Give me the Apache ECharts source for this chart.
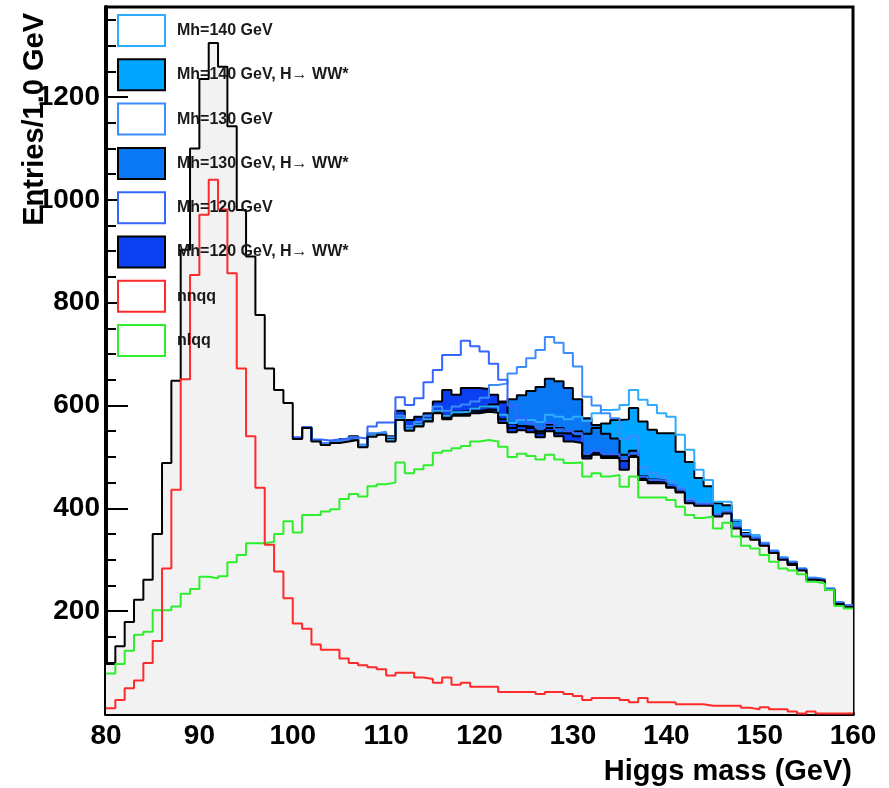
<!DOCTYPE html>
<html>
<head>
<meta charset="utf-8">
<script src="https://cdn.jsdelivr.net/npm/echarts@6/dist/echarts.min.js"></script>
<style>
  html, body { margin: 0; padding: 0; background: #fff; }
  #chart { width: 889px; height: 788px; }
</style>
</head>
<body>
<div id="chart"></div>
<script>
// bins are 1 GeV wide; arrays hold the bin contents starting at the given left edge
var bgStart = 80;
var sigStart = 100;

// total background (black, grey fill), bins 80..159
var background = [
  97, 132, 179, 222, 261, 350, 488, 648, 903, 1100,
  1235, 1305, 1259, 1143, 980, 890, 776, 672, 630, 605,
  535, 556, 530, 523, 527, 530, 533, 519, 539, 543,
  530, 572, 551, 559, 569, 585, 573, 580, 580, 585,
  588, 586, 566, 548, 552, 548, 538, 550, 540, 530,
  527, 497, 504, 498, 498, 475, 500, 455, 449, 449,
  440, 431, 410, 405, 405, 384, 390, 361, 345, 339,
  327, 313, 300, 292, 279, 261, 259, 241, 214, 208
];

// nnqq (red), bins 80..159
var nnqq = [
  11, 27, 50, 65, 99, 142, 283, 436, 651, 854,
  971, 1039, 981, 857, 672, 540, 440, 329, 277, 225,
  176, 166, 135, 125, 125, 108, 99, 95, 91, 87,
  75, 80, 80, 71, 68, 61, 71, 57, 61, 53,
  53, 53, 43, 43, 43, 43, 39, 43, 43, 39,
  35, 27, 31, 31, 31, 27, 23, 31, 23, 23,
  23, 19, 19, 19, 16, 16, 16, 16, 12, 9,
  13, 9, 9, 5, 1, 5, 1, 1, 1, 1
];

// nlqq (green), bins 80..159
var nlqq = [
  79, 97, 123, 154, 160, 202, 202, 209, 234, 243,
  267, 264, 268, 295, 309, 332, 332, 335, 350, 375,
  353, 387, 387, 394, 398, 418, 428, 423, 443, 447,
  450, 489, 468, 476, 484, 508, 512, 517, 521, 530,
  533, 530, 520, 500, 506, 502, 495, 504, 495, 488,
  489, 462, 468, 462, 465, 442, 462, 421, 421, 421,
  416, 403, 387, 381, 384, 361, 372, 345, 327, 322,
  309, 296, 283, 279, 272, 257, 254, 241, 210, 205
];

// background + H->WW* signal (filled), bins 100..159
var ww140 = [
  536, 557, 531, 524, 528, 531, 535, 520, 541, 545,
  532, 574, 553, 561, 571, 587, 576, 583, 584, 589,
  592, 591, 573, 556, 560, 558, 550, 563, 556, 549,
  550, 545, 556, 565, 572, 573, 595, 569, 553, 546,
  546, 510, 490, 459, 443, 410, 406, 376, 352, 345,
  332, 315, 303, 290, 280, 262, 260, 242, 217, 211
];
var ww130 = [
  536, 557, 532, 525, 529, 533, 537, 522, 543, 546,
  535, 576, 555, 563, 574, 590, 580, 588, 590, 594,
  598, 602, 606, 612, 620, 628, 636, 652, 647, 634,
  612, 575, 562, 545, 536, 504, 512, 463, 456, 454,
  445, 435, 414, 408, 408, 387, 393, 364, 347, 341,
  329, 315, 302, 294, 281, 263, 261, 243, 216, 210
];
var ww120 = [
  537, 557, 533, 527, 530, 535, 540, 523, 545, 547,
  540, 590, 572, 578, 585, 608, 630, 621, 634, 634,
  632, 621, 608, 565, 560, 556, 546, 556, 546, 545,
  540, 502, 508, 502, 502, 492, 503, 458, 452, 451,
  442, 433, 412, 406, 406, 385, 391, 362, 346, 340,
  328, 314, 301, 293, 280, 262, 260, 242, 215, 209
];

// background + signal, all decays (open outlines), bins 100..159
var all140 = [
  537, 557, 532, 525, 529, 532, 536, 521, 542, 546,
  533, 575, 555, 563, 573, 590, 580, 587, 588, 594,
  598, 598, 582, 566, 572, 572, 568, 582, 578, 573,
  578, 570, 585, 591, 592, 601, 630, 611, 601, 585,
  578, 543, 514, 475, 455, 413, 413, 377, 358, 348,
  333, 316, 305, 296, 283, 265, 262, 244, 217, 211
];
var all130 = [
  537, 557, 533, 527, 531, 534, 538, 524, 546, 549,
  538, 580, 560, 568, 580, 598, 590, 598, 602, 608,
  615, 640, 643, 662, 675, 692, 708, 733, 722, 702,
  676, 617, 600, 585, 575, 535, 540, 480, 468, 462,
  452, 440, 418, 410, 410, 389, 395, 366, 350, 344,
  332, 318, 304, 296, 283, 265, 262, 244, 217, 211
];
var all120 = [
  538, 558, 534, 532, 534, 536, 538, 536, 559, 567,
  567, 616, 601, 614, 645, 669, 698, 698, 726, 715,
  705, 681, 650, 600, 575, 566, 556, 566, 554, 550,
  546, 508, 512, 505, 505, 496, 506, 462, 455, 454,
  445, 436, 414, 408, 408, 387, 393, 364, 348, 342,
  330, 316, 302, 294, 282, 263, 261, 243, 216, 210
];

var legendNames = [
  'Mh=140 GeV', 'Mh=140 GeV, H\u2192 WW*',
  'Mh=130 GeV', 'Mh=130 GeV, H\u2192 WW*',
  'Mh=120 GeV', 'Mh=120 GeV, H\u2192 WW*',
  'nnqq', 'nlqq'
];
var xTicks = [80, 160, 10];
var yTicks = [0, 1375, 200];

var font = '"Liberation Sans", Arial, Helvetica, sans-serif';

// turn bin contents into step points (left edges + closing right edge)
function steps(start, arr) {
  var pts = arr.map(function (v, i) { return [start + i, v]; });
  pts.push([start + arr.length, arr[arr.length - 1]]);
  return pts;
}

function hist(name, start, arr, line, fill, width) {
  var s = {
    name: name,
    type: 'line',
    step: 'end',
    symbol: 'none',
    silent: true,
    data: steps(start, arr),
    lineStyle: { color: line, width: width || 2 },
    itemStyle: { color: fill || line }
  };
  if (fill) s.areaStyle = { color: fill, opacity: 1 };
  return s;
}

var c140 = '#2eaaff', c130 = '#3a8cff', c120 = '#3366ff';
var f140 = '#00a6ff', f130 = '#0a78f5', f120 = '#0a40f2';
var red = '#ff2a2a', green = '#2eee2e';

var chart = echarts.init(document.getElementById('chart'), null, { renderer: 'canvas' });
chart.setOption({
  animation: false,
  backgroundColor: '#fff',
  grid: {
    left: 106, right: 36, top: 7, bottom: 74,
    show: true, borderColor: '#000', borderWidth: 3, backgroundColor: 'transparent'
  },
  xAxis: {
    type: 'value',
    min: xTicks[0], max: xTicks[1], interval: xTicks[2],
    axisLine: { onZero: false, lineStyle: { color: '#000', width: 4 } },
    axisTick: { show: false },
    splitLine: { show: false },
    axisLabel: { color: '#000', fontFamily: font, fontWeight: 'bold', fontSize: 28, margin: 8 }
  },
  yAxis: {
    type: 'value',
    min: yTicks[0], max: yTicks[1], interval: yTicks[2],
    axisLine: { show: true, lineStyle: { color: '#000', width: 4 } },
    axisTick: { show: true, inside: true, length: 22, lineStyle: { color: '#000', width: 2 } },
    minorTick: { show: true, splitNumber: 4, length: 10, lineStyle: { color: '#000', width: 2 } },
    splitLine: { show: false },
    axisLabel: {
      color: '#000', fontFamily: font, fontWeight: 'bold', fontSize: 28, margin: 6,
      showMinLabel: false, showMaxLabel: false,
      formatter: function (v) { return String(v); }
    }
  },
  legend: {
    orient: 'vertical',
    left: 112, top: 9,
    itemWidth: 47, itemHeight: 31, itemGap: 11.3,
    selectedMode: false,
    textStyle: { color: '#1a1a1a', fontFamily: font, fontWeight: 'bold', fontSize: 16, padding: [0, 0, 0, 7] },
    data: [
      { name: legendNames[0], icon: 'rect', itemStyle: { color: '#fff', borderColor: c140, borderWidth: 2 } },
      { name: legendNames[1], icon: 'rect', itemStyle: { color: f140, borderColor: '#000', borderWidth: 2 } },
      { name: legendNames[2], icon: 'rect', itemStyle: { color: '#fff', borderColor: c130, borderWidth: 2 } },
      { name: legendNames[3], icon: 'rect', itemStyle: { color: f130, borderColor: '#000', borderWidth: 2 } },
      { name: legendNames[4], icon: 'rect', itemStyle: { color: '#fff', borderColor: c120, borderWidth: 2 } },
      { name: legendNames[5], icon: 'rect', itemStyle: { color: f120, borderColor: '#000', borderWidth: 2 } },
      { name: legendNames[6], icon: 'rect', itemStyle: { color: '#fff', borderColor: red, borderWidth: 2 } },
      { name: legendNames[7], icon: 'rect', itemStyle: { color: '#fff', borderColor: green, borderWidth: 2 } }
    ]
  },
  graphic: [
    {
      type: 'text', x: 35, y: 13, rotation: Math.PI / 2,
      style: { text: 'Entries/1.0 GeV', font: 'bold 29px ' + font, fill: '#000', align: 'right', verticalAlign: 'middle' }
    },
    {
      type: 'text', x: 852, y: 772,
      style: { text: 'Higgs mass (GeV)', font: 'bold 29px ' + font, fill: '#000', align: 'right', verticalAlign: 'middle' }
    }
  ],
  series: [
    hist(legendNames[1], sigStart, ww140, '#000', f140),
    hist(legendNames[3], sigStart, ww130, '#000', f130),
    hist(legendNames[5], sigStart, ww120, '#000', f120),
    hist(legendNames[0], sigStart, all140, c140),
    hist(legendNames[2], sigStart, all130, c130),
    hist(legendNames[4], sigStart, all120, c120),
    hist('background', bgStart, background, '#000', '#f2f2f2'),
    hist(legendNames[7], bgStart, nlqq, green),
    hist(legendNames[6], bgStart, nnqq, red)
  ]
});
</script>
</body>
</html>
